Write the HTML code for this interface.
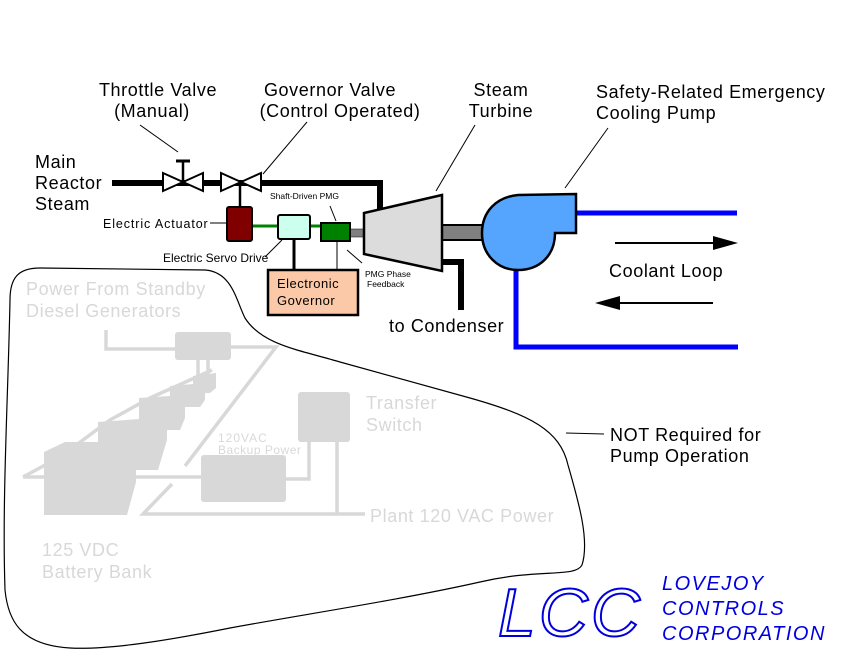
<!DOCTYPE html>
<html><head><style>
html,body{margin:0;padding:0;background:#fff;}
svg{display:block;font-family:"Liberation Sans",sans-serif;}
</style></head><body>
<svg width="842" height="650" viewBox="0 0 842 650" xmlns="http://www.w3.org/2000/svg">
<!-- blob -->
<path d="M10,300 C10,278 18,268 40,268 L205,270 C232,272 236,300 245,318 C262,345 300,350 340,362 L470,398 C530,415 560,430 568,465 C578,500 590,540 582,565 C575,578 540,568 480,582 C400,600 300,615 230,628 C170,640 110,650 70,648 C20,645 8,620 5,590 C2,500 8,400 10,300 Z" fill="none" stroke="#000" stroke-width="1.2"/>
<!-- gray background items -->
<g fill="none" stroke="#d8d8d8" stroke-width="3.5">
<polyline points="106,330 106,349 175,349"/>
<polyline points="231,347 276,347 185,466"/>
<line x1="198" y1="360" x2="198" y2="378"/><line x1="208" y1="360" x2="208" y2="378"/>
<polyline points="23,477 60,457 110,420 150,398 190,380 212,370"/>
<line x1="23" y1="477" x2="201" y2="477"/>
<polyline points="286,479 309,479 309,442"/>
<line x1="337" y1="442" x2="337" y2="514"/>
<polyline points="172,484 143,514 365,514"/>
</g>
<g fill="#d8d8d8" stroke="none">
<rect x="175" y="332" width="56" height="28" rx="3"/>
<rect x="298" y="392" width="52" height="50" rx="3"/>
<rect x="201" y="455" width="85" height="47" rx="3"/>
<polygon points="193,376 216,373 216,388 210,393 193,393"/>
<polygon points="170,386 205,383 205,400 200,407 170,407"/>
<polygon points="139,398 185,395 185,418 180,430 139,430"/>
<polygon points="98,422 167,417 167,440 158,470 98,470"/>
<polygon points="44,452 65,442 136,442 136,482 127,515 44,515"/>
</g>
<g fill="#d8d8d8" font-size="18" letter-spacing="0.6">
<text x="26" y="295">Power From Standby</text>
<text x="26" y="317">Diesel Generators</text>
<text x="366" y="409">Transfer</text>
<text x="366" y="431">Switch</text>
<text x="370" y="522">Plant 120 VAC Power</text>
<text x="42" y="556">125 VDC</text>
<text x="42" y="578">Battery Bank</text>
<text x="218" y="442" font-size="12" letter-spacing="1">120VAC</text>
<text x="218" y="454" font-size="12" letter-spacing="0.5">Backup Power</text>
</g>
<!-- steam pipe -->
<polyline points="112,183 380,183 380,212" fill="none" stroke="#000" stroke-width="6"/>
<!-- valves -->
<g fill="#fff" stroke="#000" stroke-width="2">
<path d="M163,173 L203,191 L203,173 L163,191 Z"/>
<path d="M221,173 L261,191 L261,173 L221,191 Z"/>
</g>
<line x1="183" y1="160" x2="183" y2="182" stroke="#000" stroke-width="2.5"/>
<line x1="176" y1="161" x2="190" y2="161" stroke="#000" stroke-width="3"/>
<line x1="240" y1="182" x2="240" y2="208" stroke="#000" stroke-width="2.5"/>
<!-- actuator etc -->
<line x1="252" y1="226" x2="322" y2="226" stroke="#008000" stroke-width="3"/>
<rect x="227" y="207" width="25" height="34" rx="2" fill="#800000" stroke="#000" stroke-width="2"/>
<rect x="278" y="215" width="32" height="24" rx="2" fill="#ccffee" stroke="#000" stroke-width="2"/>
<line x1="294" y1="239" x2="294" y2="270" stroke="#000" stroke-width="3"/>
<line x1="337" y1="241" x2="337" y2="270" stroke="#000" stroke-width="1"/>
<rect x="350" y="229" width="15" height="8" fill="#808080" stroke="#000" stroke-width="0.5"/>
<rect x="321" y="223" width="29" height="18" fill="#008000" stroke="#000" stroke-width="2"/>
<rect x="268" y="270" width="90" height="45" fill="#fcc9a8" stroke="#000" stroke-width="2.5"/>
<text x="277" y="288" font-size="13" letter-spacing="0.5">Electronic</text>
<text x="277" y="305" font-size="13" letter-spacing="0.5">Governor</text>
<!-- turbine -->
<polyline points="438,262 461,262 461,310" fill="none" stroke="#000" stroke-width="6"/>
<rect x="442" y="225" width="44" height="15" fill="#808080" stroke="#000" stroke-width="2"/>
<polygon points="364,213 442,195 442,271 364,254" fill="#dcdcdc" stroke="#000" stroke-width="2.5"/>
<!-- pump & pipes -->
<polyline points="576,213 737,213" fill="none" stroke="#0000ff" stroke-width="5"/>
<polyline points="516,268 516,347 738,347" fill="none" stroke="#0000ff" stroke-width="5"/>
<path d="M518,195 L576,194 L576,233 L555,233 C555,255 540,270 518,270 C498,270 482,255 482,233 C482,212 496,197 518,195 Z" fill="#55a5ff" stroke="#000" stroke-width="2.5"/>
<line x1="615" y1="243" x2="715" y2="243" stroke="#000" stroke-width="2"/>
<polygon points="713,236 738,243 713,250" fill="#000"/>
<line x1="618" y1="303" x2="713" y2="303" stroke="#000" stroke-width="2"/>
<polygon points="620,296 595,303 620,310" fill="#000"/>
<text x="609" y="277" font-size="18" letter-spacing="0.6">Coolant Loop</text>
<!-- labels -->
<g font-size="18" fill="#000" letter-spacing="0.6">
<text x="158" y="96" text-anchor="middle">Throttle Valve</text>
<text x="152" y="117" text-anchor="middle">(Manual)</text>
<text x="330" y="96" text-anchor="middle">Governor Valve</text>
<text x="340" y="117" text-anchor="middle">(Control Operated)</text>
<text x="501" y="96" text-anchor="middle">Steam</text>
<text x="501" y="117" text-anchor="middle">Turbine</text>
<text x="596" y="98">Safety-Related Emergency</text>
<text x="596" y="119">Cooling Pump</text>
<text x="35" y="168">Main</text>
<text x="35" y="189">Reactor</text>
<text x="35" y="210">Steam</text>
<text x="389" y="332">to Condenser</text>
<text x="610" y="441">NOT Required for</text>
<text x="610" y="462">Pump Operation</text>
</g>
<g font-size="12"><text x="103" y="228" font-size="12.5" letter-spacing="0.9">Electric Actuator</text>
<text x="163" y="262">Electric Servo Drive</text></g>
<g font-size="8.5"><text x="270" y="199">Shaft-Driven PMG</text>
<text x="365" y="277">PMG Phase</text><text x="367" y="287">Feedback</text></g>
<g stroke="#000" stroke-width="1" fill="none">
<line x1="140" y1="125" x2="178" y2="152"/>
<line x1="307" y1="122" x2="263" y2="174"/>
<line x1="475" y1="125" x2="436" y2="191"/>
<line x1="608" y1="128" x2="565" y2="188"/>
<line x1="210" y1="223" x2="226" y2="223"/>
<line x1="265" y1="257" x2="282" y2="240"/>
<line x1="330" y1="206" x2="336" y2="221"/>
<line x1="347" y1="250" x2="362" y2="263"/>
<line x1="566" y1="433" x2="604" y2="434"/>
</g>
<!-- logo -->
<text x="498" y="636" font-size="68" font-style="italic" fill="#fff" stroke="#0000dd" stroke-width="2" letter-spacing="3">LCC</text>
<g font-size="20" font-style="italic" fill="#0000dd" letter-spacing="1.5">
<text x="662" y="590">LOVEJOY</text>
<text x="662" y="615">CONTROLS</text>
<text x="662" y="640">CORPORATION</text>
</g>
</svg>
</body></html>
